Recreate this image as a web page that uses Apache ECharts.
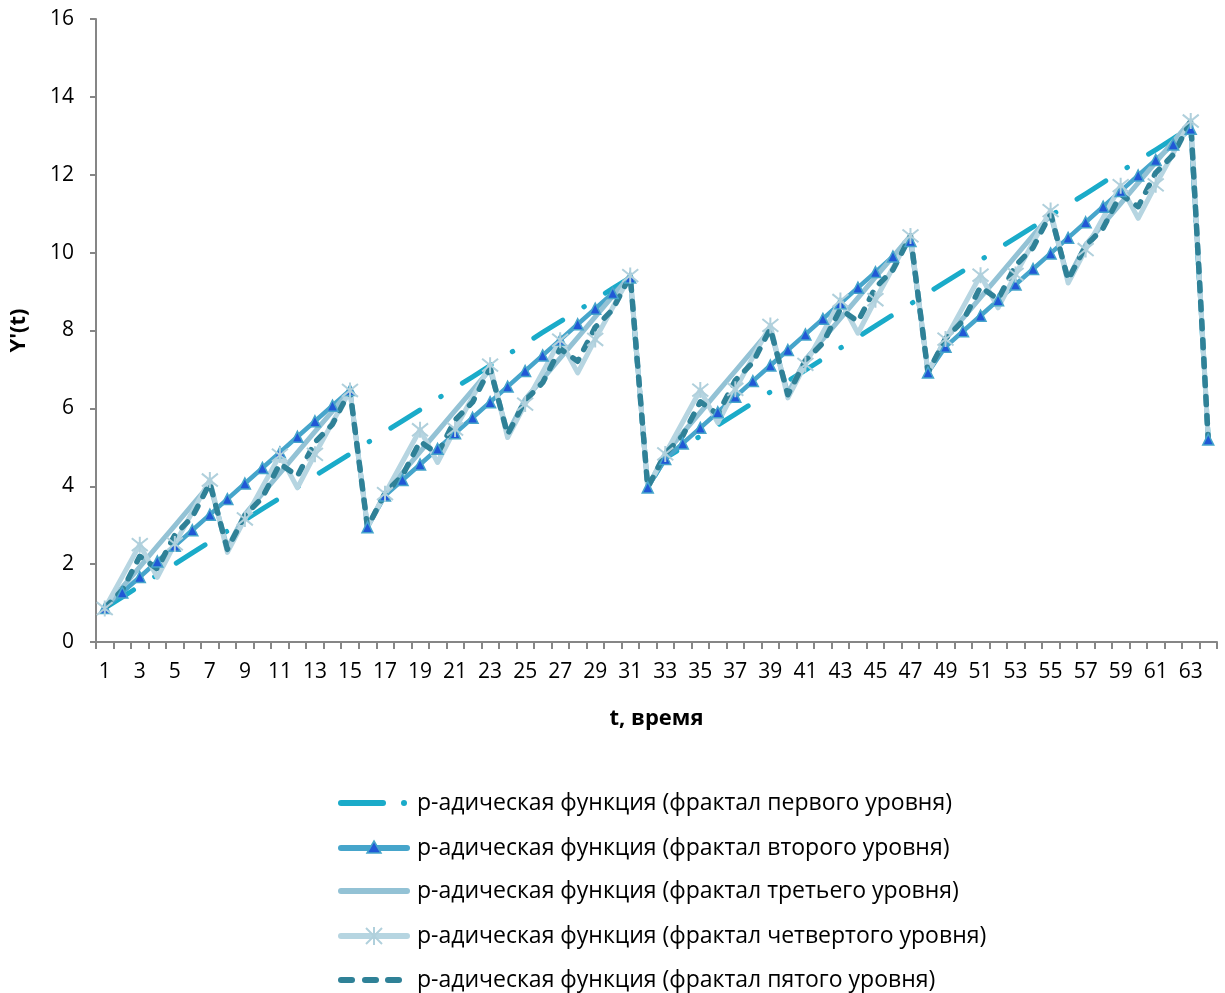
<!DOCTYPE html>
<html>
<head>
<meta charset="utf-8">
<script src="https://cdn.jsdelivr.net/npm/echarts@6/dist/echarts.min.js"></script>
<style>
html,body{margin:0;padding:0;background:#fff;}
#chart{width:1225px;height:993px;}
</style>
</head>
<body>
<div id="chart"></div>
<script>
var categories = ['1','2','3','4','5','6','7','8','9','10','11','12','13','14','15','16','17','18','19','20','21','22','23','24','25','26','27','28','29','30','31','32','33','34','35','36','37','38','39','40','41','42','43','44','45','46','47','48','49','50','51','52','53','54','55','56','57','58','59','60','61','62','63','64'];

var seriesNames = [
  'р-адическая функция (фрактал первого уровня)',
  'р-адическая функция (фрактал второго уровня)',
  'р-адическая функция (фрактал третьего уровня)',
  'р-адическая функция (фрактал четвертого уровня)',
  'р-адическая функция (фрактал пятого уровня)'
];

var level1 = [0.87,1.15,1.44,1.72,2.00,2.29,2.57,2.85,3.13,3.42,3.70,3.98,4.27,4.55,4.83,5.12,5.40,5.68,5.96,6.25,6.53,6.81,7.10,7.38,7.66,7.95,8.23,8.51,8.79,9.08,9.36,
  3.97,4.72,5.00,5.29,5.57,5.85,6.14,6.42,6.70,6.98,7.27,7.55,7.83,8.12,8.40,8.68,8.97,9.25,9.53,9.81,10.10,10.38,10.66,10.95,11.23,11.51,11.80,12.08,12.36,12.64,12.93,13.21,5.2];

var level2 = [0.87,1.27,1.67,2.07,2.47,2.87,3.27,3.67,4.07,4.47,4.87,5.27,5.67,6.07,6.47,
  2.95,3.76,4.16,4.56,4.96,5.36,5.76,6.16,6.56,6.96,7.36,7.76,8.16,8.56,8.96,9.36,
  3.97,4.70,5.10,5.50,5.90,6.30,6.70,7.10,7.50,7.90,8.30,8.70,9.10,9.50,9.90,10.30,
  6.92,7.58,7.98,8.38,8.78,9.18,9.58,9.98,10.38,10.78,11.18,11.58,11.98,12.38,12.78,13.18,5.2];

var level3 = [0.87,1.40,1.93,2.46,2.99,3.52,4.05,
  2.41,3.28,3.81,4.34,4.87,5.40,5.93,6.46,
  2.95,3.82,4.35,4.88,5.41,5.94,6.47,7.00,
  5.36,6.23,6.76,7.29,7.82,8.35,8.88,9.41,
  3.97,4.84,5.37,5.90,6.43,6.96,7.49,8.02,
  6.38,7.25,7.78,8.31,8.84,9.37,9.90,10.43,
  6.92,7.79,8.32,8.85,9.38,9.91,10.44,10.97,
  9.33,10.20,10.73,11.26,11.79,12.32,12.85,13.38,5.2];

var level4 = [0.86,1.68,2.50,
  1.66,2.52,3.34,4.16,
  2.30,3.16,3.98,4.80,
  3.96,4.82,5.64,6.46,
  2.95,3.81,4.63,5.45,
  4.61,5.47,6.29,7.11,
  5.25,6.11,6.93,7.75,
  6.91,7.77,8.59,9.41,
  3.97,4.83,5.65,6.47,
  5.63,6.49,7.31,8.13,
  6.27,7.13,7.95,8.77,
  7.93,8.79,9.61,10.43,
  6.92,7.78,8.60,9.42,
  8.58,9.44,10.26,11.08,
  9.22,10.08,10.90,11.72,
  10.88,11.74,12.56,13.38,5.2];

var level5 = [0.87,1.33,2.20,1.88,2.75,3.21,4.08,2.38,3.25,3.71,4.58,4.26,5.13,5.59,6.46,
  2.95,3.82,4.28,5.15,4.83,5.70,6.16,7.03,5.33,6.20,6.66,7.53,7.21,8.08,8.54,9.41,
  3.97,4.84,5.30,6.17,5.85,6.72,7.18,8.05,6.35,7.22,7.68,8.55,8.23,9.10,9.56,10.43,
  6.92,7.79,8.25,9.12,8.80,9.67,10.13,11.00,9.30,10.17,10.63,11.50,11.18,12.05,12.51,13.38,5.2];

var yTicks = {min: 0, max: 16, step: 2};
var xTitle = 't, время';
var yTitle = "Y'(t)";

var FONT = 'Open Sans';
var C1 = '#1aabc9', C2 = '#46a5cb', C2M = '#2158d6', C3 = '#93c2d5', C4 = '#b6d5e1', C4M = '#b0d0dc', C5 = '#2f8197';
var chart = echarts.init(document.getElementById('chart'), null, {renderer: 'canvas'});
var asterisk = 'path://M1,1L9,9M9,1L1,9M5,0L5,10';

// legend drawn as graphic elements (icons + text)
var LX = 338, LW = 72, TX = 417;
var legendY = [803, 848, 891, 936, 980];
var gfx = [];
function seg(x1, y, x2, color, w) {
  return {type: 'line', silent: true, z: 100,
    shape: {x1: x1, y1: y, x2: x2, y2: y},
    style: {stroke: color, lineWidth: w, lineCap: 'round'}};
}
// item 1: dash-dot
gfx.push(seg(LX + 3, legendY[0], LX + 45, C1, 6));
gfx.push({type: 'circle', silent: true, z: 100, shape: {cx: LX + 66, cy: legendY[0], r: 3}, style: {fill: C1}});
// item 2: line with triangle
gfx.push(seg(LX + 3, legendY[1], LX + LW - 3, C2, 6));
gfx.push({type: 'polygon', silent: true, z: 101, shape: {points: [[LX + 36, legendY[1] - 7], [LX + 43, legendY[1] + 5], [LX + 29, legendY[1] + 5]]},
  style: {fill: C2M, stroke: C2, lineWidth: 1.5}});
// item 3: plain line
gfx.push(seg(LX + 3, legendY[2], LX + LW - 3, C3, 6));
// item 4: line with asterisk
gfx.push(seg(LX + 3, legendY[3], LX + LW - 3, C4, 6));
(function () {
  var cx = LX + 36, cy = legendY[3], r = 8;
  gfx.push({type: 'line', silent: true, z: 101, shape: {x1: cx - r, y1: cy - r, x2: cx + r, y2: cy + r}, style: {stroke: C4M, lineWidth: 2}});
  gfx.push({type: 'line', silent: true, z: 101, shape: {x1: cx + r, y1: cy - r, x2: cx - r, y2: cy + r}, style: {stroke: C4M, lineWidth: 2}});
  gfx.push({type: 'line', silent: true, z: 101, shape: {x1: cx, y1: cy - r - 1, x2: cx, y2: cy + r + 1}, style: {stroke: C4M, lineWidth: 2}});
})();
// item 5: dashed
gfx.push(seg(LX + 3, legendY[4], LX + 14, C5, 6));
gfx.push(seg(LX + 27, legendY[4], LX + 38, C5, 6));
gfx.push(seg(LX + 50, legendY[4], LX + 61, C5, 6));
for (var i = 0; i < 5; i++) {
  gfx.push({type: 'text', silent: true, z: 100, x: TX, y: legendY[i],
    style: {text: seriesNames[i], font: '23px "' + FONT + '"', fill: '#000', align: 'left', verticalAlign: 'middle'}});
}

chart.setOption({
  animation: false,
  backgroundColor: '#ffffff',
  textStyle: {fontFamily: FONT},
  grid: {left: 92, top: 19, width: 1125, height: 623, containLabel: false},
  xAxis: {
    type: 'category',
    data: categories,
    boundaryGap: true,
    name: xTitle,
    nameLocation: 'middle',
    nameGap: 66,
    nameTextStyle: {fontFamily: FONT, fontSize: 22, fontWeight: 'bold', color: '#000'},
    axisLine: {show: true, lineStyle: {color: '#868686', width: 2}},
    axisTick: {show: true, interval: 0, length: 7, lineStyle: {color: '#868686', width: 2}},
    axisLabel: {interval: 1, margin: 20, fontFamily: FONT, fontSize: 21, color: '#000'},
    splitLine: {show: false}
  },
  yAxis: {
    type: 'value',
    min: yTicks.min,
    max: yTicks.max,
    interval: yTicks.step,
    name: yTitle,
    nameLocation: 'middle',
    nameGap: 66,
    nameRotate: 90,
    nameTextStyle: {fontFamily: FONT, fontSize: 22, fontWeight: 'bold', color: '#000'},
    axisLine: {show: true, lineStyle: {color: '#868686', width: 2}},
    axisTick: {show: true, length: 6, lineStyle: {color: '#868686', width: 2}},
    axisLabel: {margin: 22, fontFamily: FONT, fontSize: 21, color: '#000'},
    splitLine: {show: false}
  },
  graphic: gfx,
  series: [
    {
      name: seriesNames[0], type: 'line', data: level1,
      symbol: 'none', showSymbol: false,
      lineStyle: {color: C1, width: 5, type: [34, 25, 0.5, 25], cap: 'round', join: 'round'},
      itemStyle: {color: C1}
    },
    {
      name: seriesNames[1], type: 'line', data: level2,
      symbol: 'triangle', symbolSize: 11,
      lineStyle: {color: C2, width: 4.5, cap: 'round', join: 'round'},
      itemStyle: {color: C2M, borderColor: C2, borderWidth: 1.5}
    },
    {
      name: seriesNames[2], type: 'line', data: level3,
      symbol: 'none', showSymbol: false,
      lineStyle: {color: C3, width: 5, cap: 'round', join: 'round'},
      itemStyle: {color: C3}
    },
    {
      name: seriesNames[3], type: 'line', data: level4,
      symbol: asterisk, symbolSize: 16,
      lineStyle: {color: C4, width: 5, cap: 'round', join: 'round'},
      itemStyle: {color: 'rgba(0,0,0,0)', borderColor: C4M, borderWidth: 2}
    },
    {
      name: seriesNames[4], type: 'line', data: level5,
      symbol: 'none', showSymbol: false,
      lineStyle: {color: C5, width: 5.5, type: [8, 11], cap: 'round', join: 'round'},
      itemStyle: {color: C5}
    }
  ]
});
</script>
</body>
</html>
